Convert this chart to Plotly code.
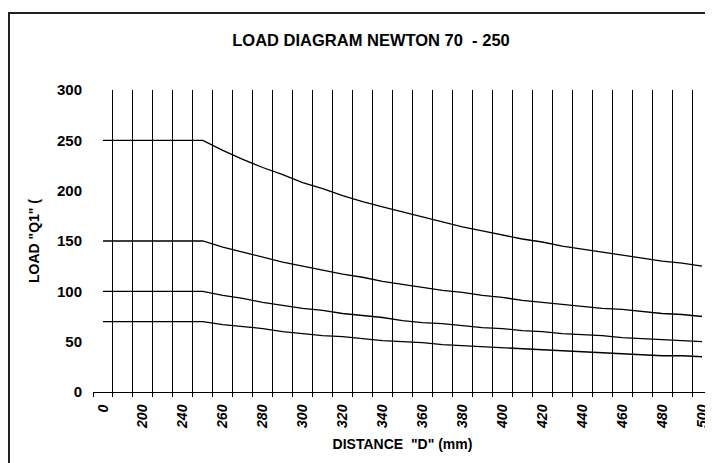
import plotly.graph_objects as go

# ---- data ----
distances = ["0", "100", "200", "220", "240", "250", "260", "270", "280", "290", "300",
             "310", "320", "330", "340", "350", "360", "370", "380", "390", "400",
             "410", "420", "430", "440", "450", "460", "470", "480", "490", "500"]
shown_labels = ["0", "200", "240", "260", "280", "300", "320", "340", "360",
                "380", "400", "420", "440", "460", "480", "500"]

load_250 = [250, 250, 250, 250, 250, 250, 240, 231, 223, 216, 208, 202, 195, 189, 184,
            179, 174, 169, 164, 160, 156, 152, 149, 145, 142, 139, 136, 133, 130, 128, 125]
load_150 = [150, 150, 150, 150, 150, 150, 144, 139, 134, 129, 125, 121, 117, 114, 110,
            107, 104, 101, 99, 96, 94, 91, 89, 87, 85, 83, 82, 80, 78, 77, 75]
load_100 = [100, 100, 100, 100, 100, 100, 96, 93, 89, 86, 83, 81, 78, 76, 74,
            71, 69, 68, 66, 64, 63, 61, 60, 58, 57, 56, 54, 53, 52, 51, 50]
load_70 = [70, 70, 70, 70, 70, 70, 67, 65, 63, 60, 58, 56, 55, 53, 51,
           50, 49, 47, 46, 45, 44, 43, 42, 41, 40, 39, 38, 37, 36, 36, 35]

series = [load_250, load_150, load_100, load_70]

# category index positions
x_idx = list(range(len(distances)))
label_idx = [distances.index(lbl) for lbl in shown_labels]

FONT_REG = "Liberation Sans, Arial, sans-serif"

fig = go.Figure()
for s in series:
    fig.add_trace(go.Scatter(x=x_idx, y=s, mode="lines",
                             line=dict(color="black", width=1.3),
                             showlegend=False, hoverinfo="skip"))

# the page body has an 8px margin, so the figure is drawn 8px smaller
W, H = 705, 455
L, R, T, B = 85, 1, 82, 71

fig.update_layout(
    template="none",
    width=W, height=H,
    margin=dict(l=L, r=R, t=T, b=B),
    paper_bgcolor="white", plot_bgcolor="white",
    title=dict(text="<b>LOAD DIAGRAM NEWTON 70  - 250</b>",
               x=363 / W, xref="container", xanchor="center",
               y=1 - 32 / H, yref="container", yanchor="middle",
               font=dict(family=FONT_REG, size=16.5, color="black")),
    showlegend=False,
)

fig.update_xaxes(
    automargin=False,
    range=[-0.5, len(distances) - 0.5],
    tickmode="array", tickvals=label_idx, ticktext=shown_labels,
    ticks="", showgrid=False, zeroline=False,
    tickangle=-90,
    tickfont=dict(family=FONT_REG, size=14, color="black", weight="bold", style="italic"),
    showline=True, linecolor="black", linewidth=1,
    minor=dict(tickmode="linear", tick0=-0.5, dtick=1, showgrid=True,
               gridcolor="black", gridwidth=1, ticks="outside", ticklen=4,
               tickcolor="black"),
    ticklabelstandoff=6,
    title=dict(text='<b>DISTANCE  "D" (mm)</b>', standoff=11,
               font=dict(family=FONT_REG, size=14, color="black")),
)

fig.update_yaxes(
    automargin=False,
    range=[0, 300], tickmode="linear", tick0=0, dtick=50,
    showgrid=False, zeroline=False, showline=False, ticks="",
    tickfont=dict(family=FONT_REG, size=15, color="black", weight="bold"),
    ticklabelstandoff=10,
    title=dict(text='<b>LOAD "Q1" (</b>', standoff=14,
               font=dict(family=FONT_REG, size=14, color="black")),
)

# outer chart frame (extends past the right and bottom of the picture)
x0 = (1 - L) / (W - L - R)
y1 = 1 + (T - 5) / (H - T - B)
fig.add_shape(type="rect", xref="paper", yref="paper",
              x0=x0, x1=1.2, y0=-0.5, y1=y1,
              line=dict(color="#222222", width=2), layer="below")

fig.write_html("out.html")
